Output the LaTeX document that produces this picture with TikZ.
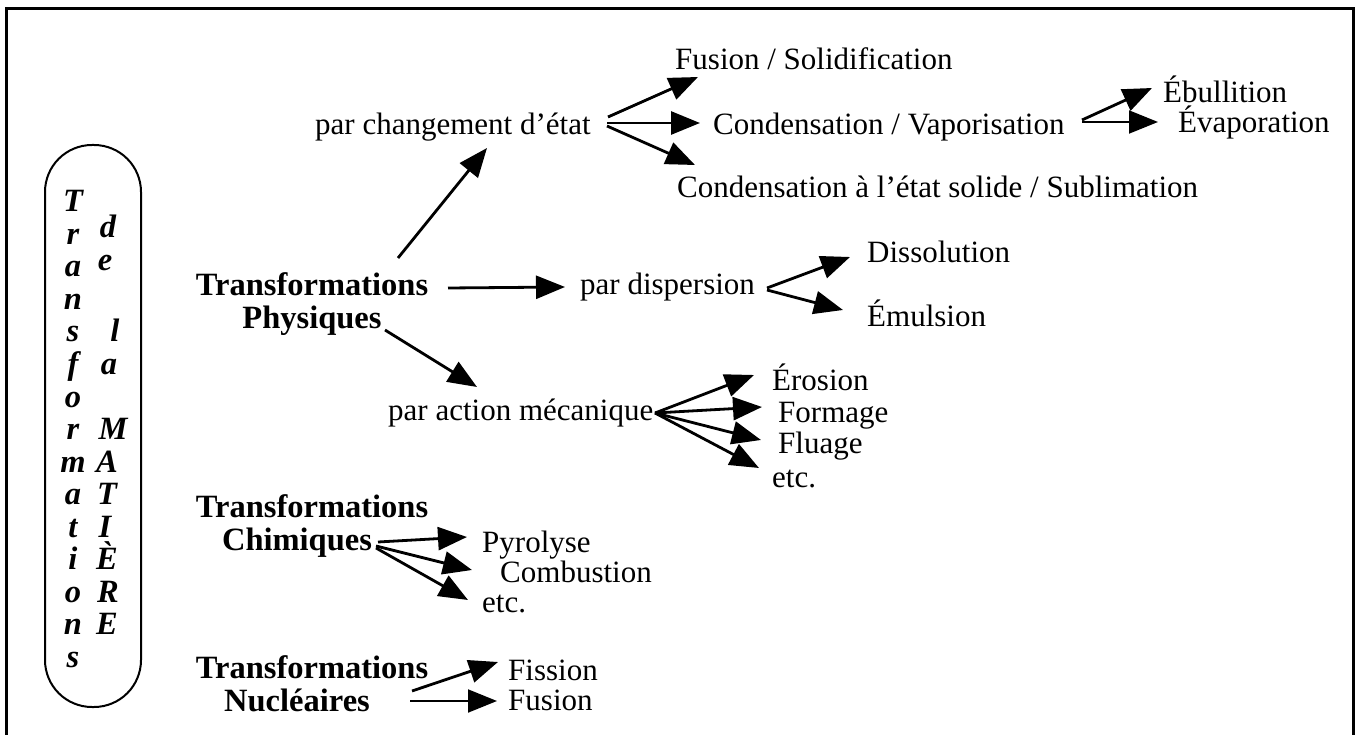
\documentclass[tikz,border=0pt]{standalone}
\usepackage{fontspec}
\setmainfont{Liberation Serif}
\usetikzlibrary{arrows.meta,calc}
\newcommand\fsz{\fontsize{31}{33}\selectfont}
\newcommand\bsz{\fontsize{32.5}{33}\selectfont}
\begin{document}
\begin{tikzpicture}[x=1pt,y=-1pt,
  txt/.style={inner sep=0pt, anchor=base west, font=\fsz},
  ttl/.style={inner sep=0pt, align=center, font=\bsz\bfseries},
  vlet/.style={inner sep=0pt, anchor=base, font=\bsz\bfseries\itshape},
  arr/.style={-{Triangle[length=29pt,width=23pt]}, line width=2.8pt},
  thinarr/.style={arr, line width=1.9pt}]
\useasboundingbox (0,0) rectangle (1358,735);
\fill[white] (0,0) rectangle (1358,735);
\draw[line width=3pt] (6.5,735) -- (6.5,8.5) -- (1353,8.5) -- (1353,735);
% side pill
\node[draw, line width=2pt, rounded corners=47pt, minimum width=96pt,
      minimum height=562pt, inner sep=0pt] (pill) at (93,426) {};
\foreach \l [count=\i from 0] in {T,r,a,n,s,f,o,r,m,a,t,i,o,n,s}
  \node[vlet] (ca\i) at (73, 212+32.5*\i) {\l};
\foreach \l/\k/\x [count=\i] in {d/0.8/108, e/1.8/105, l/4/115, a/5/109,
    M/7/113, A/8/107, T/9/107, I/10/105, È/11/107, R/12/108, E/13/107}
  \node[vlet] (cb\i) at (\x, 212+32.5*\k) {\l};
% texts
\node[txt] (fus)  at (675,70)  {Fusion / Solidification};
\node[txt] (chg)  at (315,135) {par changement d’état};
\node[txt] (cv)   at (713,135) {Condensation / Vaporisation};
\node[txt] (cs)   at (677,198) {Condensation à l’état solide / Sublimation};
\node[txt] (ebu)  at (1163,103) {Ébullition};
\node[txt] (eva)  at (1178,133) {Évaporation};
\node[ttl] (phys) at (312,304) {Transformations\\Physiques};
\node[txt] (disp) at (580,295) {par dispersion};
\node[txt] (diss) at (867,263) {Dissolution};
\node[txt] (emul) at (867,327) {Émulsion};
\node[txt] (meca) at (388,420) {par action mécanique};
\node[txt] (eros) at (772,390) {Érosion};
\node[txt] (form) at (778,422) {Formage};
\node[txt] (flua) at (778,453) {Fluage};
\node[txt] (etca) at (772,487) {etc.};
\node[ttl] (chim) at (312,526) {Transformations\\Chimiques\hspace*{30pt}};
\node[txt] (pyro) at (482,552) {Pyrolyse};
\node[txt] (comb) at (500,582) {Combustion};
\node[txt] (etcb) at (482,612) {etc.};
\node[ttl] (nucl) at (312,684) {Transformations\\Nucléaires\hspace*{30pt}};
\node[txt] (fiss) at (508,680) {Fission};
\node[txt] (fusn) at (508,710) {Fusion};
% arrows
\draw[arr] ($(phys.center)+(86,-46)$) -- ($(chg.base west)+(172,13)$);
\draw[arr] ($(chg.base west)+(293,-18)$) -- ($(fus.base west)+(23,7)$);
\draw[arr] ($(chg.base west)+(292,-12)$) -- ($(cv.base west)+(-13,-12)$);
\draw[arr] ($(chg.base west)+(292,-9)$) -- ($(cs.base west)+(18,-33)$);
\draw[arr] ($(cv.base west)+(369,-15)$) -- ($(ebu.base west)+(-11,-15)$);
\draw[thinarr] ($(cv.base west)+(369,-13)$) -- ($(eva.base west)+(-20,-11)$);
\draw[arr] ($(phys.center)+(136,-16)$) -- ($(disp.base west)+(-15,-8)$);
\draw[arr] ($(disp.base west)+(187,-7)$) -- ($(diss.base west)+(-17,-6)$);
\draw[arr] ($(disp.base west)+(187,-5)$) -- ($(emul.base west)+(-24,-17)$);
\draw[arr] ($(phys.center)+(73,26)$) -- ($(meca.base west)+(89,-33)$);
\draw[arr] ($(meca.base west)+(267,-7)$) -- ($(eros.base west)+(-18,-15)$);
\draw[arr] ($(meca.base west)+(267,-7)$) -- ($(form.base west)+(-16,-15)$);
\draw[arr] ($(meca.base west)+(267,-7)$) -- ($(flua.base west)+(-17,-13)$);
\draw[arr] ($(meca.base west)+(267,-7)$) -- ($(etca.base west)+(-13,-19)$);
\draw[arr] ($(chim.center)+(66,16)$) -- ($(pyro.base west)+(-15,-15)$);
\draw[arr] ($(chim.center)+(64,20)$) -- ($(comb.base west)+(-28,-12)$);
\draw[arr] ($(chim.center)+(64,22)$) -- ($(etcb.base west)+(-14,-12)$);
\draw[arr] ($(nucl.center)+(100,7)$) -- ($(fiss.base west)+(-10,-18)$);
\draw[thinarr] ($(nucl.center)+(98,17)$) -- ($(fusn.base west)+(-11,-9)$);
\end{tikzpicture}
\end{document}
